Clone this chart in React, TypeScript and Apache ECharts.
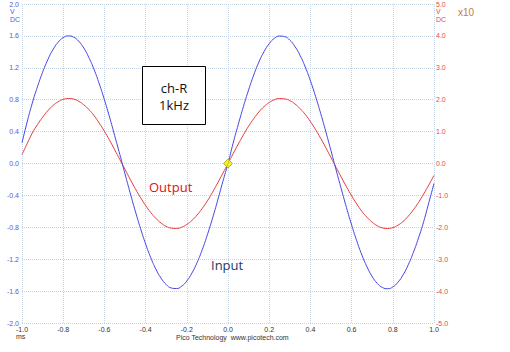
import React, { useEffect, useRef } from "react";
import * as echarts from "echarts";

// time in ms
const times = [
  -1.0, -0.975, -0.95, -0.925, -0.9, -0.875, -0.85, -0.825, -0.8, -0.775,
  -0.75, -0.725, -0.7, -0.675, -0.65, -0.625, -0.6, -0.575, -0.55, -0.525,
  -0.5, -0.475, -0.45, -0.425, -0.4, -0.375, -0.35, -0.325, -0.3, -0.275,
  -0.25, -0.225, -0.2, -0.175, -0.15, -0.125, -0.1, -0.075, -0.05, -0.025,
  0.0, 0.025, 0.05, 0.075, 0.1, 0.125, 0.15, 0.175, 0.2, 0.225,
  0.25, 0.275, 0.3, 0.325, 0.35, 0.375, 0.4, 0.425, 0.45, 0.475,
  0.5, 0.525, 0.55, 0.575, 0.6, 0.625, 0.65, 0.675, 0.7, 0.725,
  0.75, 0.775, 0.8, 0.825, 0.85, 0.875, 0.9, 0.925, 0.95, 0.975, 1.0,
];

// Input channel (left axis, V)
const inputVolts = [
  0.26, 0.52, 0.758, 0.962, 1.144, 1.3, 1.426, 1.519, 1.578, 1.6,
  1.585, 1.534, 1.448, 1.327, 1.178, 1.0, 0.8, 0.582, 0.349, 0.112,
  -0.13, -0.368, -0.597, -0.812, -1.008, -1.18, -1.325, -1.437, -1.517, -1.561,
  -1.568, -1.539, -1.473, -1.373, -1.242, -1.08, -0.893, -0.685, -0.461, -0.226,
  0.0, 0.256, 0.491, 0.715, 0.923, 1.11, 1.272, 1.403, 1.503, 1.569,
  1.598, 1.591, 1.547, 1.467, 1.355, 1.21, 1.038, 0.842, 0.627, 0.398,
  0.16, -0.082, -0.319, -0.552, -0.77, -0.97, -1.148, -1.297, -1.418, -1.504,
  -1.555, -1.57, -1.548, -1.489, -1.396, -1.27, -1.114, -0.932, -0.728, -0.49, -0.25,
];

// Output channel (right axis, V x10)
const outputVolts = [
  0.28, 0.62, 0.955, 1.218, 1.45, 1.652, 1.815, 1.934, 2.01, 2.037,
  2.02, 1.952, 1.84, 1.687, 1.5, 1.267, 1.01, 0.729, 0.43, 0.124,
  -0.185, -0.492, -0.79, -1.063, -1.315, -1.536, -1.72, -1.867, -1.97, -2.026,
  -2.035, -1.998, -1.91, -1.785, -1.615, -1.407, -1.17, -0.9, -0.61, -0.309,
  0.0, 0.309, 0.61, 0.9, 1.17, 1.407, 1.615, 1.785, 1.91, 1.998,
  2.035, 2.026, 1.97, 1.867, 1.72, 1.536, 1.315, 1.063, 0.79, 0.492,
  0.185, -0.124, -0.43, -0.729, -1.01, -1.267, -1.5, -1.687, -1.84, -1.952,
  -2.02, -2.037, -2.01, -1.934, -1.815, -1.652, -1.45, -1.218, -0.955, -0.671, -0.37,
];

const triggerPoint = [[0.0, 0.0]];

export default function App() {
  const ref = useRef<HTMLDivElement>(null);
  useEffect(() => {
    if (!ref.current) return;
    const chart = echarts.init(ref.current, undefined, { renderer: "svg" });
    const gridColor = "#c4d4e4";
    const sans = "Liberation Sans, Arial, sans-serif";
    chart.setOption({
      animation: false,
      backgroundColor: "#ffffff",
      grid: { left: 22, right: 76, top: 4, bottom: 29, containLabel: false },
      xAxis: {
        type: "value",
        min: -1,
        max: 1,
        interval: 0.2,
        axisLine: { show: false },
        axisTick: { show: false },
        axisLabel: {
          fontSize: 7,
          fontFamily: sans,
          color: "#333333",
          margin: 3,
          formatter: (v: number) => v.toFixed(1),
        },
        splitLine: { show: true, lineStyle: { type: "dotted", color: gridColor, width: 1 } },
      },
      yAxis: [
        {
          type: "value",
          min: -2,
          max: 2,
          interval: 0.4,
          axisLine: { show: false },
          axisTick: { show: false },
          axisLabel: {
            fontSize: 7,
            fontFamily: sans,
            color: "#5858d8",
            margin: 3,
            formatter: (v: number) => v.toFixed(1),
          },
          splitLine: { show: true, lineStyle: { type: "dotted", color: gridColor, width: 1 } },
        },
        {
          type: "value",
          min: -5,
          max: 5,
          interval: 1,
          position: "right",
          axisLine: { show: false },
          axisTick: { show: false },
          axisLabel: {
            fontSize: 7,
            fontFamily: sans,
            color: "#e84848",
            margin: 2,
            formatter: (v: number) => v.toFixed(1),
          },
          splitLine: { show: false },
        },
      ],
      series: [
        {
          name: "Input",
          type: "line",
          yAxisIndex: 0,
          data: times.map((t, i) => [t, inputVolts[i]]),
          smooth: true,
          showSymbol: false,
          lineStyle: { color: "#4545e6", width: 1 },
          z: 3,
        },
        {
          name: "Output",
          type: "line",
          yAxisIndex: 1,
          data: times.map((t, i) => [t, outputVolts[i]]),
          smooth: true,
          showSymbol: false,
          lineStyle: { color: "#e83a3a", width: 1 },
          z: 2,
        },
        {
          name: "Trigger",
          type: "scatter",
          yAxisIndex: 0,
          data: triggerPoint,
          symbol: "diamond",
          symbolSize: [9, 9],
          itemStyle: { color: "#f4f000", borderColor: "#a8a000", borderWidth: 1 },
          z: 5,
        },
      ],
      graphic: [
        { type: "text", left: 10, top: 8, style: { text: "V", fontSize: 7, fontFamily: sans, fill: "#5858d8" } },
        { type: "text", left: 10, top: 16, style: { text: "DC", fontSize: 7, fontFamily: sans, fill: "#5858d8" } },
        { type: "text", left: 436, top: 8, style: { text: "V", fontSize: 7, fontFamily: sans, fill: "#e84848" } },
        { type: "text", left: 436, top: 16, style: { text: "DC", fontSize: 7, fontFamily: sans, fill: "#e84848" } },
        { type: "text", left: 458, top: 7, style: { text: "x10", fontSize: 10, fontFamily: sans, fill: "#c87a3c" } },
        { type: "text", left: 16, top: 333, style: { text: "ms", fontSize: 7, fontFamily: sans, fill: "#333333" } },
        { type: "text", left: 176, top: 334, style: { text: "Pico Technology  www.picotech.com", fontSize: 7, fontFamily: sans, fill: "#333333" } },
        {
          type: "rect",
          shape: { x: 142.5, y: 66.5, width: 63, height: 58 },
          style: { fill: "#ffffff", stroke: "#000000", lineWidth: 1 },
          z: 10,
        },
        {
          type: "text",
          x: 174,
          y: 88,
          style: { text: "ch-R", fontSize: 13, fontFamily: "Open Sans, sans-serif", fill: "#111111", align: "center", verticalAlign: "middle" },
          z: 11,
        },
        {
          type: "text",
          x: 174,
          y: 105,
          style: { text: "1kHz", fontSize: 13, fontFamily: "Open Sans, sans-serif", fill: "#111111", align: "center", verticalAlign: "middle" },
          z: 11,
        },
        {
          type: "text",
          x: 149,
          y: 187,
          style: { text: "Output", fontSize: 13, fontFamily: "Open Sans, sans-serif", fill: "#e01010", verticalAlign: "middle" },
          z: 11,
        },
        {
          type: "text",
          x: 211,
          y: 265,
          style: { text: "Input", fontSize: 13, fontFamily: "Open Sans, sans-serif", fill: "#23386a", verticalAlign: "middle" },
          z: 11,
        },
      ],
    });
    return () => chart.dispose();
  }, []);
  return (
    <div
      ref={ref}
      style={{ position: "fixed", left: 0, top: 0, width: 510, height: 352, background: "#fff" }}
    />
  );
}
